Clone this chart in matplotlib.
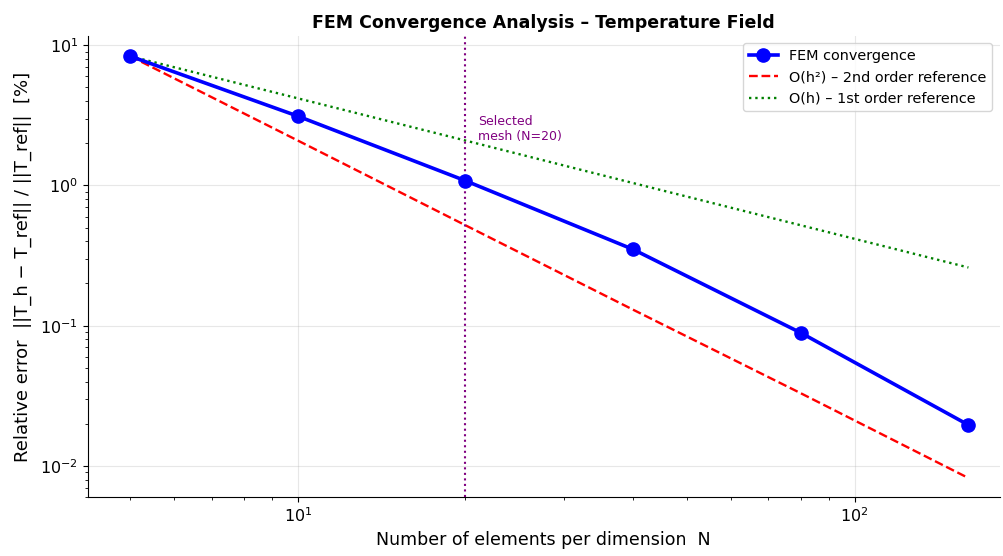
import matplotlib
matplotlib.use("Agg")
import matplotlib.pyplot as plt

# Mesh resolutions and measured relative errors [%]
n_elements = [5, 10, 20, 40, 80, 160]
fem_error = [8.35, 3.12, 1.08, 0.35, 0.089, 0.0196]

# Reference slopes anchored at the coarsest mesh
ref_second_order = [8.35, 2.09, 0.52, 0.13, 0.033, 0.0082]
ref_first_order = [8.35, 4.18, 2.09, 1.04, 0.52, 0.26]

selected_n = 20

fig = plt.figure(figsize=(10.04, 5.56), dpi=100)
ax = fig.add_axes([0.0876, 0.106, 0.908, 0.829])

ax.loglog(n_elements, fem_error, "o-", color="blue", lw=2.6, ms=9.5,
          label="FEM convergence", zorder=3)
ax.loglog(n_elements, ref_second_order, "--", color="red", lw=1.7,
          label="O(h²) – 2nd order reference")
ax.loglog(n_elements, ref_first_order, ":", color="green", lw=1.7,
          label="O(h) – 1st order reference")

ax.axvline(selected_n, color="purple", ls=":", lw=1.5)
ax.text(selected_n * 1.055, 2.0, "Selected\nmesh (N=20)", color="purple",
        fontsize=9, va="bottom", ha="left")

ax.set_xlim(4.2, 182)
ax.set_ylim(0.006, 11.6)

ax.grid(True, which="major", alpha=0.3)
ax.spines["top"].set_visible(False)
ax.spines["right"].set_visible(False)
ax.tick_params(labelsize=11.5)

ax.set_xlabel("Number of elements per dimension  N", fontsize=12.5)
ax.set_ylabel("Relative error  ||T_h − T_ref|| / ||T_ref||  [%]", fontsize=13,
              labelpad=6)
ax.set_title("FEM Convergence Analysis – Temperature Field",
             fontsize=12.5, fontweight="bold")
ax.legend(loc="upper right", fontsize=10.4)

fig.savefig("out.png", dpi=100)
